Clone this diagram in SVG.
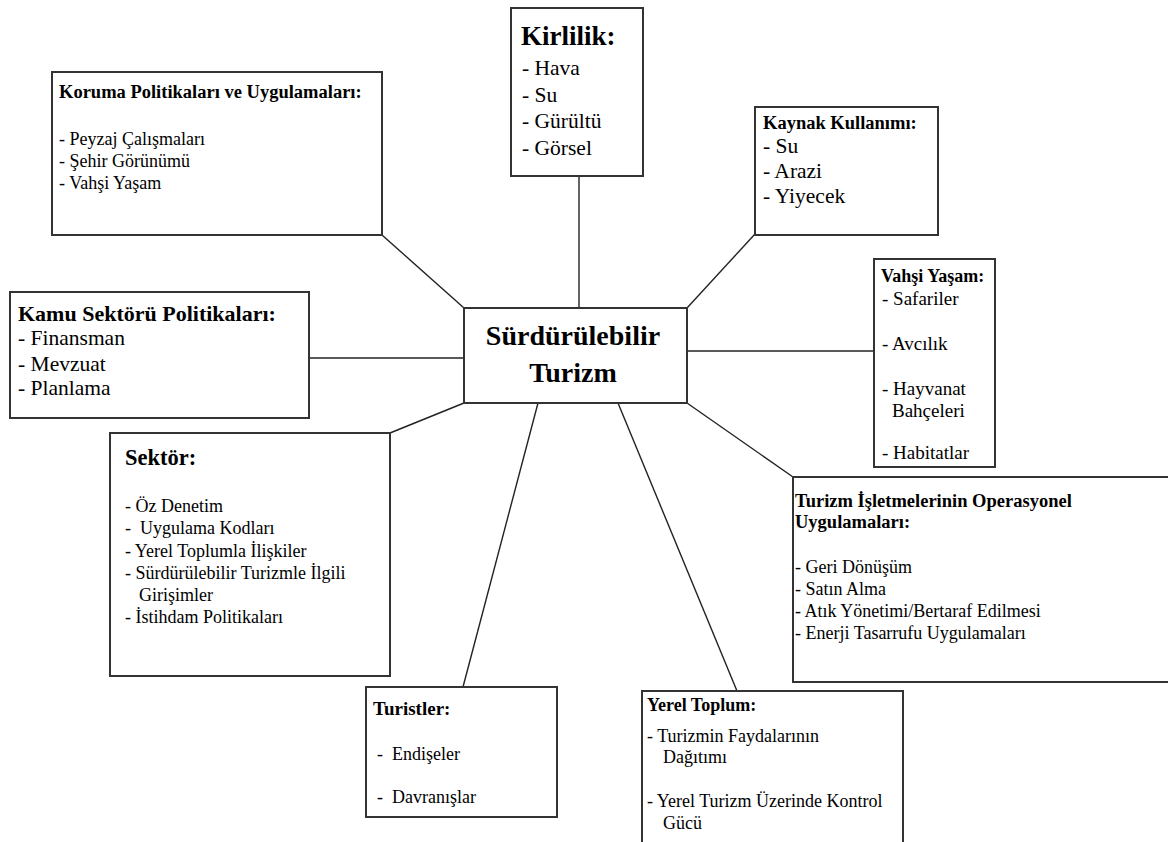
<svg xmlns="http://www.w3.org/2000/svg" width="1168" height="842" viewBox="0 0 1168 842">
<style>
.box{fill:#fff;stroke:#333;stroke-width:2}
.ln{stroke:#222;stroke-width:1.4;fill:none}
.b{font-weight:bold}
</style>
<rect width="1168" height="842" fill="#fff"/>
<g id="connectors">
<line class="ln" x1="382" y1="235" x2="464" y2="308"/>
<line class="ln" x1="579" y1="176" x2="579" y2="308"/>
<line class="ln" x1="755" y1="234" x2="687" y2="308"/>
<line class="ln" x1="309" y1="358" x2="464" y2="358"/>
<line class="ln" x1="687" y1="351" x2="874" y2="351"/>
<line class="ln" x1="390" y1="433" x2="464" y2="403"/>
<line class="ln" x1="463" y1="687" x2="538" y2="403"/>
<line class="ln" x1="737" y1="691" x2="618" y2="403"/>
<line class="ln" x1="687" y1="403" x2="793" y2="477"/>
</g>
<g font-family="Liberation Serif, Tinos, DejaVu Serif, serif" fill="#000">
<g id="center">
<rect class="box" x="464" y="308" width="223" height="95"/>
<text class="b" x="573" y="345" font-size="28" text-anchor="middle">Sürdürülebilir</text>
<text class="b" x="573" y="382" font-size="28" text-anchor="middle">Turizm</text>
</g>
<g id="koruma">
<rect class="box" x="52" y="72" width="330" height="163"/>
<text class="b" x="59" y="98" font-size="18.5">Koruma Politikaları ve Uygulamaları:</text>
<text x="59" y="145" font-size="18">- Peyzaj Çalışmaları</text>
<text x="59" y="167" font-size="18">- Şehir Görünümü</text>
<text x="59" y="189" font-size="18">- Vahşi Yaşam</text>
</g>
<g id="kirlilik">
<rect class="box" x="511" y="8" width="132" height="168"/>
<text class="b" x="521" y="45" font-size="27">Kirlilik:</text>
<text x="522" y="75" font-size="21.5">- Hava</text>
<text x="522" y="102" font-size="21.5">- Su</text>
<text x="522" y="128" font-size="21.5">- Gürültü</text>
<text x="522" y="155" font-size="21.5">- Görsel</text>
</g>
<g id="kaynak">
<rect class="box" x="755" y="107" width="183" height="128"/>
<text class="b" x="763" y="129" font-size="18.5">Kaynak Kullanımı:</text>
<text x="763" y="153" font-size="21.5">- Su</text>
<text x="763" y="178" font-size="21.5">- Arazi</text>
<text x="763" y="203" font-size="21.5">- Yiyecek</text>
</g>
<g id="vahsi">
<rect class="box" x="874" y="259" width="121" height="208"/>
<text class="b" x="881" y="282" font-size="18">Vahşi Yaşam:</text>
<text x="882" y="305" font-size="19">- Safariler</text>
<text x="882" y="350" font-size="19">- Avcılık</text>
<text x="882" y="395" font-size="19">- Hayvanat</text>
<text x="892" y="417" font-size="19">Bahçeleri</text>
<text x="882" y="459" font-size="19">- Habitatlar</text>
</g>
<g id="kamu">
<rect class="box" x="10" y="292" width="299" height="126"/>
<text class="b" x="18" y="321" font-size="22">Kamu Sektörü Politikaları:</text>
<text x="18" y="345" font-size="21.5">- Finansman</text>
<text x="18" y="371" font-size="21.5">- Mevzuat</text>
<text x="18" y="395" font-size="21.5">- Planlama</text>
</g>
<g id="sektor">
<rect class="box" x="110" y="433" width="280" height="243"/>
<text class="b" x="125" y="465" font-size="22.5">Sektör:</text>
<text x="125" y="512" font-size="18">- Öz Denetim</text>
<text x="125" y="534" font-size="18">-&#160; Uygulama Kodları</text>
<text x="125" y="557" font-size="18">- Yerel Toplumla İlişkiler</text>
<text x="125" y="579" font-size="18">- Sürdürülebilir Turizmle İlgili</text>
<text x="139" y="601" font-size="18">Girişimler</text>
<text x="125" y="623" font-size="18">- İstihdam Politikaları</text>
</g>
<g id="isletme">
<rect class="box" x="793" y="477" width="380" height="205"/>
<text class="b" x="795" y="507" font-size="18.5">Turizm İşletmelerinin Operasyonel</text>
<text class="b" x="795" y="528" font-size="18.5">Uygulamaları:</text>
<text x="795" y="573" font-size="18">- Geri Dönüşüm</text>
<text x="795" y="595" font-size="18">- Satın Alma</text>
<text x="795" y="617" font-size="18">- Atık Yönetimi/Bertaraf Edilmesi</text>
<text x="795" y="639" font-size="18">- Enerji Tasarrufu Uygulamaları</text>
</g>
<g id="turistler">
<rect class="box" x="366" y="687" width="191" height="130"/>
<text class="b" x="373" y="715" font-size="19">Turistler:</text>
<text x="377" y="760" font-size="18">-&#160; Endişeler</text>
<text x="377" y="803" font-size="18">-&#160; Davranışlar</text>
</g>
<g id="yerel">
<rect class="box" x="642" y="691" width="261" height="160"/>
<text class="b" x="647" y="711" font-size="18">Yerel Toplum:</text>
<text x="647" y="742" font-size="18">- Turizmin Faydalarının</text>
<text x="663" y="763" font-size="18">Dağıtımı</text>
<text x="647" y="807" font-size="18">- Yerel Turizm Üzerinde Kontrol</text>
<text x="663" y="829" font-size="18">Gücü</text>
</g>
</g>
</svg>
